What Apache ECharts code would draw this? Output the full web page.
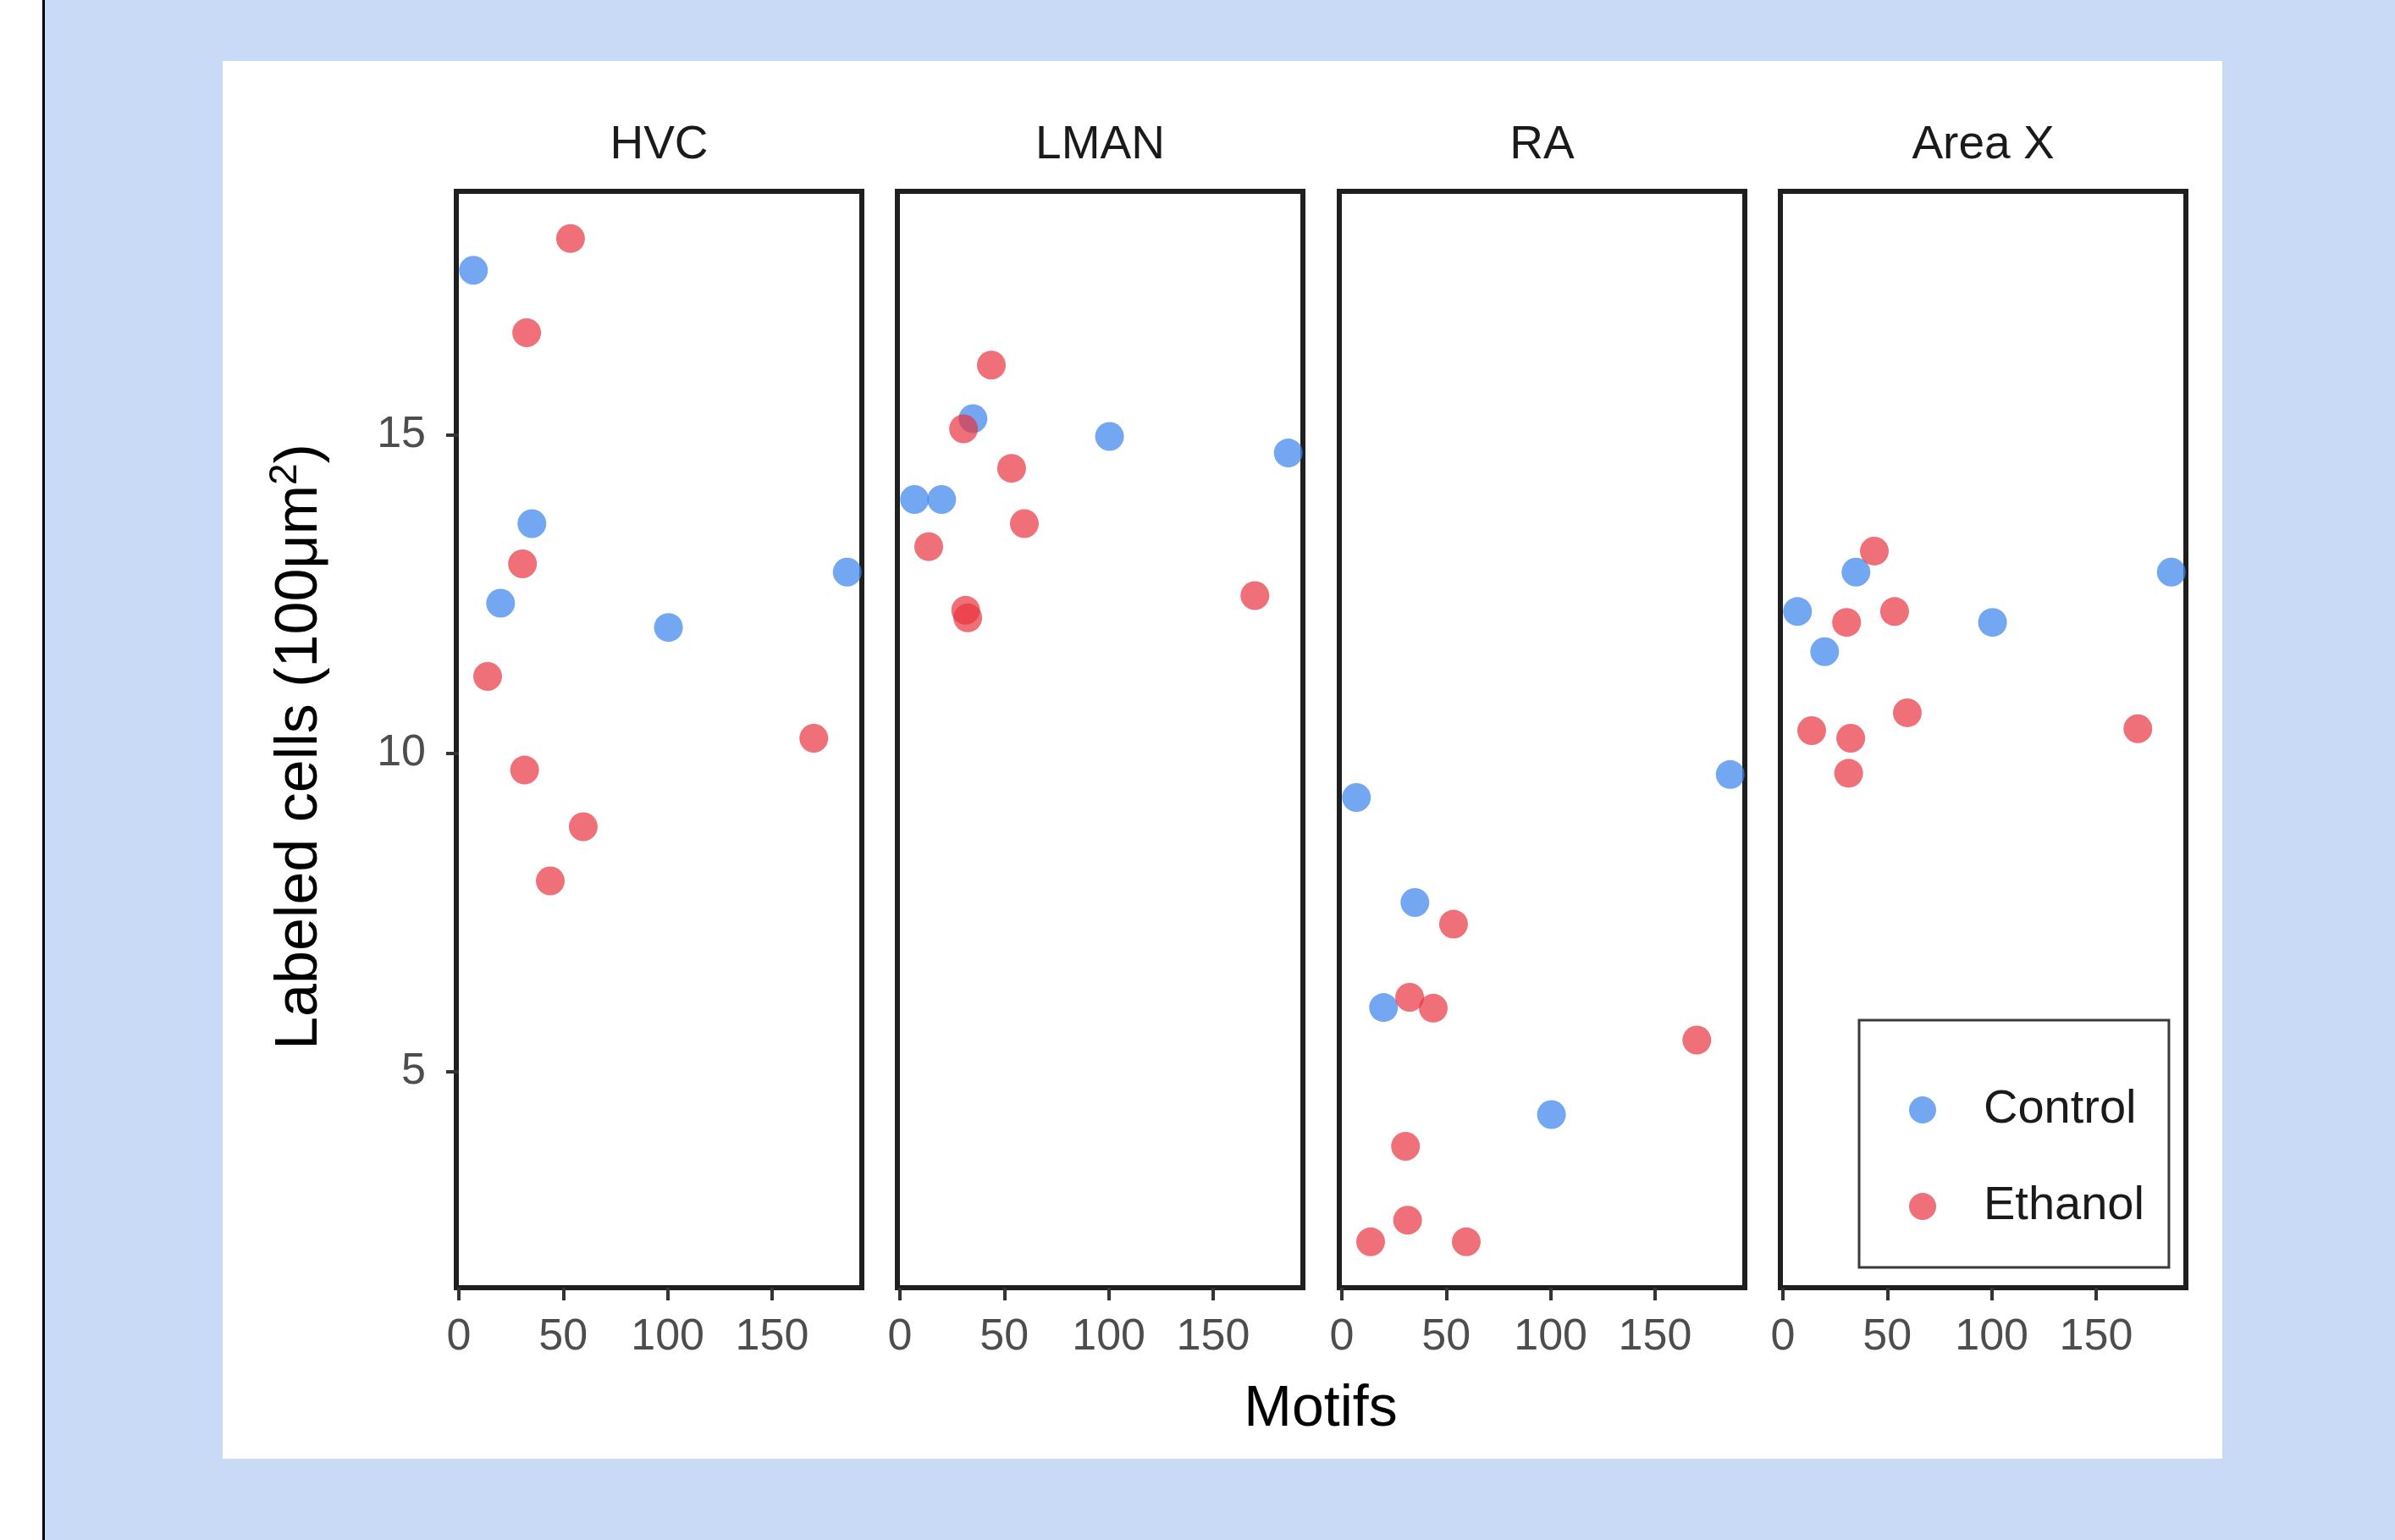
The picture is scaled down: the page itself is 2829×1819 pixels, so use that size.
<!DOCTYPE html>
<html>
<head>
<meta charset="utf-8">
<title>Labeled cells vs motifs</title>
<script src="https://cdn.jsdelivr.net/npm/echarts@6.0.0/dist/echarts.min.js"></script>
<style>
  html, body { margin: 0; padding: 0; }
  body { width: 2829px; height: 1819px; background: #c9daf6; position: relative; overflow: hidden; }
  .edge { position: absolute; left: 0; top: 0; width: 50px; height: 1819px; background: #fff; border-right: 3px solid #000; }
  #chart { position: absolute; left: 263px; top: 72px; width: 2362px; height: 1651px; background: #fff; }
</style>
</head>
<body>
<div class="edge"></div>
<div id="chart"></div>
<script>
// facets
const regions = ["HVC", "LMAN", "RA", "Area X"];

// motifs per bird (same birds in every region)
const controlMotifs = [7, 20, 35, 100.4, 186];
const ethanolMotifs = [13.8, 30.5, 31.5, 32.5, 43.8, 53.5, 59.6, 170];

// labeled cells (100 um^2), one value per bird
const hvcControl = [17.58, 12.35, 13.6, 11.97, 12.84];
const lmanControl = [13.98, 13.98, 15.25, 14.97, 14.71];
const raControl = [9.3, 6.0, 7.65, 4.32, 9.66];
const areaXControl = [12.22, 11.59, 12.84, 12.05, 12.84];

const hvcEthanol = [11.2, 12.97, 9.73, 16.6, 7.99, 18.08, 8.84, 10.23];
const lmanEthanol = [13.24, 15.09, 12.24, 12.12, 16.09, 14.47, 13.6, 12.47];
const raEthanol = [2.32, 3.82, 2.66, 6.16, 5.99, 7.31, 2.32, 5.49];
const areaXEthanol = [10.35, 12.05, 9.68, 10.23, 13.17, 12.22, 10.63, 10.38];

const controlCells = [hvcControl, lmanControl, raControl, areaXControl];
const ethanolCells = [hvcEthanol, lmanEthanol, raEthanol, areaXEthanol];

// ticks
const xTicks = [0, 50, 100, 150];
const yTicks = [5, 10, 15];

const FONT = "Liberation Sans, Arial, Helvetica, sans-serif";
const panelLeft = [276, 797, 1319, 1840];
const panelWidth = 479;
const panelTop = 154;
const panelHeight = 1295;

let chart = echarts.init(document.getElementById("chart"), null, { renderer: "canvas" });

let grids = [], xAxes = [], yAxes = [], series = [], texts = [];

regions.forEach((name, i) => {
  grids.push({
    left: panelLeft[i],
    top: panelTop,
    width: panelWidth,
    height: panelHeight,
    show: true,
    borderColor: "#1f1f1f",
    borderWidth: 6,
    backgroundColor: "transparent"
  });
  xAxes.push({
    type: "value",
    gridIndex: i,
    min: -1.2,
    max: 193,
    axisLine: { show: false },
    splitLine: { show: false },
    axisTick: {
      show: true,
      customValues: xTicks,
      length: 15,
      lineStyle: { color: "#333", width: 4 }
    },
    axisLabel: {
      customValues: xTicks,
      fontSize: 52,
      fontFamily: FONT,
      color: "#4d4d4d",
      margin: 33
    }
  });
  yAxes.push({
    type: "value",
    gridIndex: i,
    min: 1.6,
    max: 18.82,
    axisLine: { show: false },
    splitLine: { show: false },
    axisTick: {
      show: i === 0,
      customValues: yTicks,
      length: 15,
      lineStyle: { color: "#333", width: 4 }
    },
    axisLabel: {
      show: i === 0,
      customValues: yTicks,
      fontSize: 52,
      fontFamily: FONT,
      color: "#4d4d4d",
      margin: 36
    }
  });
  series.push({
    name: "Control",
    type: "scatter",
    xAxisIndex: i,
    yAxisIndex: i,
    symbolSize: 34,
    itemStyle: { color: "#3d85ec", opacity: 0.72 },
    data: controlMotifs.map((m, k) => [m, controlCells[i][k]])
  });
  series.push({
    name: "Ethanol",
    type: "scatter",
    xAxisIndex: i,
    yAxisIndex: i,
    symbolSize: 34,
    itemStyle: { color: "#e8333f", opacity: 0.7 },
    data: ethanolMotifs.map((m, k) => [m, ethanolCells[i][k]])
  });
  // strip label
  texts.push({
    type: "text",
    x: panelLeft[i] + panelWidth / 2,
    y: 100,
    style: {
      text: name,
      font: "55px " + FONT,
      fill: "#1a1a1a",
      textAlign: "center",
      textVerticalAlign: "middle"
    }
  });
});

// axis titles
texts.push({
  type: "text",
  x: 1297,
  y: 1593,
  style: {
    text: "Motifs",
    font: "68px " + FONT,
    fill: "#000",
    textAlign: "center",
    textVerticalAlign: "middle"
  }
});
texts.push({
  type: "text",
  x: 92,
  y: 810,
  rotation: Math.PI / 2,
  style: {
    text: "{a|Labeled cells (100μm}{s|2}{a|)}",
    textAlign: "center",
    textVerticalAlign: "middle",
    rich: {
      a: { font: "70px " + FONT, fill: "#000", lineHeight: 82 },
      s: { font: "46px " + FONT, fill: "#000", lineHeight: 52, verticalAlign: "top" }
    }
  }
});

let options = {
  animation: false,
  grid: grids,
  xAxis: xAxes,
  yAxis: yAxes,
  legend: {
    data: ["Control", "Ethanol"],
    orient: "vertical",
    left: 1933,
    top: 1133,
    icon: "circle",
    itemWidth: 32,
    itemHeight: 32,
    itemGap: 44,
    padding: [71, 29, 37, 59],
    borderColor: "#3a3a3a",
    borderWidth: 3,
    textStyle: {
      fontSize: 56,
      fontFamily: FONT,
      color: "#1a1a1a",
      lineHeight: 64,
      padding: [6, 0, 0, 51]
    }
  },
  graphic: texts,
  series: series
};

chart.setOption(options);
</script>
</body>
</html>
